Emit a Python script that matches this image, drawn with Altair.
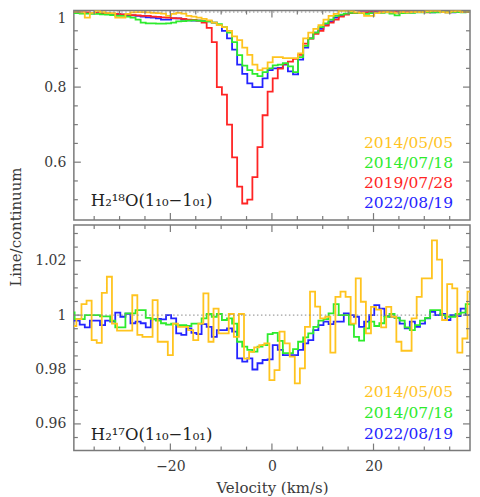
import altair as alt
import numpy as np
import pandas as pd

# ---------------- data ----------------
CHAN_W = 1.0            # km/s channel width
TOP_START = -39.35      # first channel centre, top panel (all series) and bottom blue/green
BOT_YEL_START = -39.0   # first channel centre, bottom panel 2014/05/05

RED_TOP = [
    1.000, 1.000, 0.999, 0.999, 0.998, 0.998, 0.997, 0.997, 0.996, 0.995,
    0.994, 0.993, 0.992, 0.991, 0.990, 0.990, 0.988, 0.987, 0.986, 0.985,
    0.984, 0.983, 0.982, 0.980, 0.979, 0.977, 0.972, 0.958, 0.920, 0.800,
    0.780, 0.700, 0.613, 0.535, 0.490, 0.500, 0.560, 0.640, 0.725, 0.788,
    0.823, 0.849, 0.862, 0.868, 0.875, 0.886, 0.916, 0.929, 0.942, 0.950,
    0.964, 0.972, 0.980, 0.988, 0.993, 0.997, 0.998, 0.999, 0.999, 1.000,
    0.999, 1.000, 1.000, 0.999, 1.000, 1.000, 0.999, 1.000, 1.000, 1.000,
    0.999, 1.000, 1.000, 1.000, 0.999, 1.000, 1.000, 1.000, 1.000, 1.000]

BLUE_TOP = [
    1.000, 0.999, 0.999, 0.998, 0.998, 0.997, 0.997, 0.996, 0.995, 0.994,
    0.993, 0.992, 0.991, 0.990, 0.988, 0.986, 0.985, 0.983, 0.980, 0.980,
    0.983, 0.983, 0.980, 0.978, 0.977, 0.977, 0.976, 0.975, 0.972, 0.965,
    0.950, 0.930, 0.900, 0.860, 0.835, 0.810, 0.800, 0.800, 0.823, 0.845,
    0.850, 0.851, 0.860, 0.842, 0.834, 0.873, 0.905, 0.930, 0.945, 0.955,
    0.965, 0.975, 0.985, 0.990, 0.995, 0.997, 0.998, 0.999, 0.999, 1.000,
    1.000, 0.999, 1.000, 1.000, 0.999, 1.000, 1.000, 0.999, 1.000, 1.000,
    1.000, 0.999, 1.000, 1.000, 1.000, 0.999, 1.000, 1.000, 1.000, 1.000]

GREEN_TOP = [
    0.997, 0.997, 0.996, 0.996, 0.995, 0.995, 0.994, 0.993, 0.992, 0.990,
    0.990, 0.988, 0.985, 0.980, 0.972, 0.970, 0.970, 0.969, 0.969, 0.970,
    0.972, 0.975, 0.976, 0.977, 0.978, 0.977, 0.976, 0.975, 0.972, 0.968,
    0.960, 0.945, 0.920, 0.885, 0.857, 0.845, 0.835, 0.829, 0.840, 0.850,
    0.858, 0.860, 0.864, 0.855, 0.840, 0.880, 0.910, 0.930, 0.945, 0.960,
    0.970, 0.980, 0.990, 0.993, 0.996, 0.998, 0.998, 0.997, 0.995, 0.997,
    0.998, 0.998, 0.999, 0.996, 0.991, 0.997, 0.998, 0.998, 0.999, 0.999,
    1.000, 0.999, 0.999, 1.000, 0.999, 1.000, 1.000, 0.999, 1.000, 1.000]

YELLOW_TOP = [
    1.000, 1.000, 0.999, 0.985, 0.998, 1.003, 1.000, 0.998, 0.997, 0.985,
    0.985, 0.995, 0.999, 1.000, 1.000, 0.999, 0.998, 0.997, 0.996, 0.990,
    0.995, 0.998, 0.996, 0.990, 0.988, 0.985, 0.982, 0.978, 0.972, 0.965,
    0.960, 0.950, 0.935, 0.925, 0.905, 0.886, 0.860, 0.845, 0.850, 0.866,
    0.880, 0.880, 0.877, 0.877, 0.877, 0.890, 0.930, 0.945, 0.955, 0.965,
    0.980, 0.990, 0.995, 1.003, 1.003, 1.002, 0.999, 0.998, 0.990, 0.990,
    0.997, 0.999, 1.000, 0.999, 0.998, 1.000, 0.999, 1.000, 1.000, 1.000,
    1.002, 1.003, 1.003, 1.000, 0.999, 1.002, 1.003, 1.000, 1.000, 1.000]

BLUE_BOT = [
    0.9980, 0.9980, 0.9965, 0.9955, 0.9980, 0.9980, 0.9963, 0.9980, 0.9976, 1.0009,
    0.9994, 1.0005, 0.9970, 0.9976, 0.9970, 0.9955, 0.9984, 0.9986, 0.9984, 1.0000,
    0.9988, 0.9933, 0.9927, 0.9951, 0.9935, 0.9930, 0.9967, 0.9957, 0.9920, 0.9945,
    0.9945, 0.9951, 0.9939, 0.9841, 0.9829, 0.9841, 0.9800, 0.9823, 0.9835, 0.9837,
    0.9890, 0.9872, 0.9853, 0.9853, 0.9853, 0.9872, 0.9896, 0.9908, 0.9945, 0.9963,
    0.9976, 0.9967, 0.9976, 0.9976, 1.0006, 1.0000, 0.9994, 0.9957, 0.9976, 1.0000,
    1.0037, 1.0024, 0.9996, 0.9994, 0.9991, 0.9969, 0.9951, 0.9976, 0.9957, 0.9969,
    0.9988, 1.0012, 1.0000, 1.0004, 0.9982, 1.0000, 0.9996, 1.0024, 1.0000, 1.0000]

GREEN_BOT = [
    1.0010, 0.9985, 0.9985, 1.0000, 1.0000, 1.0000, 0.9995, 0.9995, 0.9980, 0.9955,
    0.9955, 1.0006, 1.0006, 1.0018, 1.0018, 0.9990, 0.9985, 0.9980, 0.9970, 0.9965,
    0.9969, 0.9963, 0.9963, 0.9960, 0.9969, 0.9969, 0.9988, 1.0004, 0.9994, 1.0004,
    0.9982, 0.9988, 0.9969, 0.9902, 0.9884, 0.9872, 0.9866, 0.9884, 0.9890, 0.9930,
    0.9935, 0.9905, 0.9860, 0.9860, 0.9875, 0.9902, 0.9918, 0.9933, 0.9957, 0.9980,
    0.9985, 1.0006, 1.0040, 1.0000, 1.0000, 0.9965, 0.9920, 0.9906, 0.9951, 0.9976,
    0.9960, 0.9970, 0.9994, 1.0004, 0.9990, 0.9980, 0.9955, 0.9945, 0.9963, 0.9980,
    0.9990, 1.0018, 1.0018, 1.0000, 0.9994, 0.9994, 1.0004, 1.0009, 1.0040, 1.0040]

YELLOW_BOT = [
    0.9960, 0.9985, 1.0040, 1.0053, 0.9908, 0.9898, 1.0082, 1.0141, 0.9969, 0.9943,
    0.9943, 0.9943, 1.0073, 0.9927, 0.9920, 0.9920, 1.0055, 0.9902, 0.9902, 0.9853,
    0.9969, 0.9957, 0.9957, 0.9945, 0.9908, 0.9969, 1.0080, 0.9902, 1.0024, 0.9933,
    0.9933, 1.0004, 0.9920, 1.0004, 0.9840, 0.9865, 0.9881, 0.9890, 0.9896, 0.9761,
    0.9798, 0.9939, 0.9896, 0.9847, 0.9749, 0.9804, 0.9957, 1.0086, 1.0031, 0.9988,
    0.9994, 0.9862, 1.0067, 1.0086, 1.0067, 0.9969, 1.0135, 1.0049, 0.9933, 1.0030,
    1.0020, 0.9955, 1.0030, 0.9994, 0.9902, 0.9869, 0.9869, 0.9988, 1.0067, 1.0135,
    1.0135, 1.0275, 1.0204, 0.9982, 1.0114, 1.0098, 0.9862, 0.9914, 1.0086, 1.0000]

DATES_TOP = ["2014/05/05", "2014/07/18", "2019/07/28", "2022/08/19"]
DATES_BOT = ["2014/05/05", "2014/07/18", "2022/08/19"]
LABEL_TOP = "H\u2082\u00b9\u2078O(1\u2081\u2080\u22121\u2080\u2081)"
LABEL_BOT = "H\u2082\u00b9\u2077O(1\u2081\u2080\u22121\u2080\u2081)"
Y_TITLE = "Line/continuum"
X_TITLE = "Velocity (km/s)"

X_DOMAIN = [-39, 39]
TOP_DOMAIN = [0.4458, 1.004]
BOT_DOMAIN = [0.9502, 1.0331]
X_MAJOR = [-20, 0, 20]
X_MINOR = [-35, -30, -25, -15, -10, -5, 5, 10, 15, 25, 30, 35]
TOP_Y_MAJOR = [0.6, 0.8, 1.0]
TOP_Y_MINOR = [0.5, 0.55, 0.65, 0.7, 0.75, 0.85, 0.9, 0.95]
BOT_Y_MAJOR = [0.96, 0.98, 1.0, 1.02]
BOT_Y_MINOR = [0.955, 0.965, 0.97, 0.975, 0.985, 0.99, 0.995, 1.005, 1.01, 1.015, 1.025, 1.03]

# ---------------- styling ----------------
FONT = "DejaVu Serif"
C_Y, C_G, C_R, C_B = "#FFC41F", "#2DEB2D", "#FF2424", "#2424FF"
FRAME = "#7a7a7a"
TXT = "#3a3a3a"
W = 397
H_TOP = 210
H_BOT = 226
MAJ, MIN = 7, 4

xs = alt.Scale(domain=X_DOMAIN, nice=False, zero=False)
ys_top = alt.Scale(domain=TOP_DOMAIN, nice=False, zero=False)
ys_bot = alt.Scale(domain=BOT_DOMAIN, nice=False, zero=False)

x_axis_bot = alt.Axis(values=X_MAJOR, format="d", title=X_TITLE, labelFont=FONT,
                      labelFontSize=14, labelColor=TXT, ticks=False, tickSize=0,
                      domain=False, grid=False, labelPadding=9, titleFont=FONT,
                      titleFontSize=15, titleFontWeight="normal", titleColor=TXT,
                      titlePadding=7)


def y_axis(vals, top_shift=0):
    extra = {}
    if top_shift:
        extra["labelOffset"] = {"condition": {"test": "datum.value >= 0.999", "value": top_shift},
                                "value": 0}
    return alt.Axis(values=vals, format="~g", title=None, labelFont=FONT, labelFontSize=14,
                    labelColor=TXT, ticks=False, tickSize=0, domain=False, grid=False,
                    labelPadding=8, **extra)


def series_df(vals, start):
    return pd.DataFrame({"v": start + CHAN_W * np.arange(len(vals)), "y": vals})


def panel(series, ys, xaxis, yaxis, ymaj, ymin, h, texts):
    layers = []
    for vals, start, color in series:
        layers.append(
            alt.Chart(series_df(vals, start)).mark_line(
                interpolate="step", clip=True, color=color, strokeWidth=1.8
            ).encode(x=alt.X("v:Q", scale=xs, axis=xaxis),
                     y=alt.Y("y:Q", scale=ys, axis=yaxis))
        )
    layers.append(
        alt.Chart(pd.DataFrame({"y": [1.0]})).mark_rule(
            strokeDash=[1.5, 2.5], color="#888", strokeWidth=1
        ).encode(y=alt.Y("y:Q", scale=ys, axis=yaxis))
    )
    for vals, ln in ((X_MAJOR, MAJ), (X_MINOR, MIN)):
        d = pd.DataFrame({"v": vals})
        layers.append(alt.Chart(d).mark_rule(color=FRAME, strokeWidth=1.2).encode(
            x=alt.X("v:Q", scale=xs, axis=xaxis), y=alt.value(h), y2=alt.value(h - ln)))
        layers.append(alt.Chart(d).mark_rule(color=FRAME, strokeWidth=1.2).encode(
            x=alt.X("v:Q", scale=xs, axis=xaxis), y=alt.value(0), y2=alt.value(ln)))
    for vals, ln in ((ymaj, MAJ), (ymin, MIN)):
        d = pd.DataFrame({"y": vals})
        layers.append(alt.Chart(d).mark_rule(color=FRAME, strokeWidth=1.2).encode(
            y=alt.Y("y:Q", scale=ys, axis=yaxis), x=alt.value(0), x2=alt.value(ln)))
        layers.append(alt.Chart(d).mark_rule(color=FRAME, strokeWidth=1.2).encode(
            y=alt.Y("y:Q", scale=ys, axis=yaxis), x=alt.value(W), x2=alt.value(W - ln)))
    for t, x, y, color, size, align, angle in texts:
        mk = dict(align=align, baseline="alphabetic", font=FONT, fontSize=size, color=color)
        if angle:
            mk["angle"] = angle
            mk["baseline"] = "middle"
        layers.append(alt.Chart(pd.DataFrame({"t": [t]})).mark_text(**mk).encode(
            x=alt.value(x), y=alt.value(y), text="t:N"))
    return alt.layer(*layers).properties(width=W, height=h)


LEG_X = W - 17
top_texts = [
    (DATES_TOP[0], LEG_X, 137.7, C_Y, 15.5, "right", 0),
    (DATES_TOP[1], LEG_X, 157.7, C_G, 15.5, "right", 0),
    (DATES_TOP[2], LEG_X, 177.7, C_R, 15.5, "right", 0),
    (DATES_TOP[3], LEG_X, 197.7, C_B, 15.5, "right", 0),
    (LABEL_TOP, 17, 196, "#222", 16.5, "left", 0),
    (Y_TITLE, -57.5, 217, TXT, 15, "center", 270),
]
bot_texts = [
    (DATES_BOT[0], LEG_X, 172.7, C_Y, 15.5, "right", 0),
    (DATES_BOT[1], LEG_X, 193.7, C_G, 15.5, "right", 0),
    (DATES_BOT[2], LEG_X, 214, C_B, 15.5, "right", 0),
    (LABEL_BOT, 17, 215, "#222", 16.5, "left", 0),
]

top = panel(
    [(BLUE_TOP, TOP_START, C_B), (RED_TOP, TOP_START, C_R),
     (GREEN_TOP, TOP_START, C_G), (YELLOW_TOP, TOP_START, C_Y)],
    ys_top, None, y_axis(TOP_Y_MAJOR, top_shift=7), TOP_Y_MAJOR, TOP_Y_MINOR, H_TOP, top_texts)

bottom = panel(
    [(BLUE_BOT, TOP_START, C_B), (GREEN_BOT, TOP_START, C_G),
     (YELLOW_BOT, BOT_YEL_START, C_Y)],
    ys_bot, x_axis_bot, y_axis(BOT_Y_MAJOR), BOT_Y_MAJOR, BOT_Y_MINOR, H_BOT, bot_texts)

chart = alt.vconcat(top, bottom, spacing=5, bounds="flush").properties(
    padding={"left": 0, "top": 0, "right": 0, "bottom": 0},
    background="white",
).configure_view(stroke=FRAME, strokeWidth=1.5)

chart.save("out.html", embed_options={"renderer": "svg", "actions": False})
